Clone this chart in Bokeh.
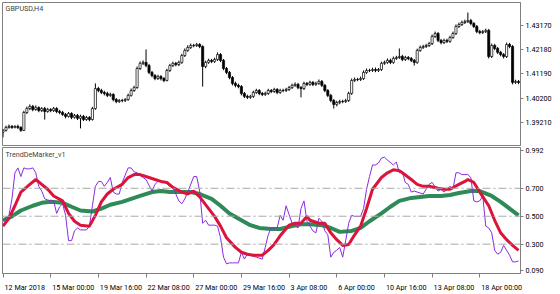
from bokeh.plotting import figure
from bokeh.layouts import column
from bokeh.models import Range1d, FixedTicker, Label, Span, ColumnDataSource
from bokeh.embed import file_html
from bokeh.resources import INLINE

# ---------------- data ----------------
symbol_title = "GBPUSD,H4"
indicator_title = "TrendDeMarker_v1"

first_open = 1.3880
close = [
    1.3888, 1.3900, 1.3904, 1.3900, 1.3904, 1.3900, 1.3888, 1.3961, 1.3977, 1.3986,
    1.3973, 1.3981, 1.3969, 1.3977, 1.3965, 1.3973, 1.3969, 1.3977, 1.3965, 1.3961,
    1.3953, 1.3945, 1.3957, 1.3941, 1.3949, 1.3937, 1.3945, 1.3932, 1.3941, 1.3932,
    1.3977, 1.4059, 1.4051, 1.4043, 1.4039, 1.4031, 1.4035, 1.4014, 1.4006, 1.4010,
    1.4010, 1.4014, 1.4031, 1.4051, 1.4063, 1.4141, 1.4162, 1.4166, 1.4153, 1.4125,
    1.4112, 1.4100, 1.4108, 1.4100, 1.4092, 1.4133, 1.4153, 1.4162, 1.4157, 1.4166,
    1.4194, 1.4215, 1.4227, 1.4235, 1.4235, 1.4239, 1.4231, 1.4149, 1.4166, 1.4174,
    1.4170, 1.4178, 1.4198, 1.4174, 1.4141, 1.4125, 1.4104, 1.4080, 1.4072, 1.4067,
    1.4039, 1.4027, 1.4023, 1.4027, 1.4043, 1.4051, 1.4039, 1.4035, 1.4039, 1.4051,
    1.4047, 1.4055, 1.4043, 1.4051, 1.4051, 1.4055, 1.4063, 1.4072, 1.4076, 1.4063,
    1.4059, 1.4080, 1.4076, 1.4084, 1.4076, 1.4080, 1.4088, 1.4072, 1.4051, 1.4031,
    1.4010, 1.3994, 1.4002, 1.4006, 1.4006, 1.4010, 1.4039, 1.4092, 1.4096, 1.4096,
    1.4100, 1.4125, 1.4133, 1.4133, 1.4137, 1.4133, 1.4137, 1.4162, 1.4166, 1.4174,
    1.4166, 1.4182, 1.4186, 1.4190, 1.4178, 1.4186, 1.4182, 1.4174, 1.4166, 1.4215,
    1.4227, 1.4231, 1.4235, 1.4243, 1.4272, 1.4284, 1.4256, 1.4247, 1.4256, 1.4252,
    1.4268, 1.4284, 1.4313, 1.4321, 1.4329, 1.4333, 1.4337, 1.4325, 1.4313, 1.4292,
    1.4288, 1.4292, 1.4297, 1.4190, 1.4235, 1.4223, 1.4207, 1.4198, 1.4190, 1.4239,
    1.4231, 1.4084, 1.4088, 1.4084,
]
high = [
    1.3894, 1.3907, 1.3912, 1.3910, 1.3909, 1.3911, 1.3905, 1.3968, 1.3985, 1.3994,
    1.3992, 1.3990, 1.3986, 1.3983, 1.3984, 1.3980, 1.3979, 1.3984, 1.3983, 1.3972,
    1.3968, 1.3959, 1.3963, 1.3962, 1.3955, 1.3955, 1.3952, 1.3951, 1.3947, 1.3946,
    1.3984, 1.4080, 1.4066, 1.4058, 1.4050, 1.4046, 1.4042, 1.4040, 1.4020, 1.4016,
    1.4017, 1.4020, 1.4038, 1.4059, 1.4070, 1.4149, 1.4170, 1.4174, 1.4219, 1.4160,
    1.4131, 1.4118, 1.4115, 1.4114, 1.4106, 1.4140, 1.4160, 1.4169, 1.4168, 1.4173,
    1.4201, 1.4223, 1.4236, 1.4243, 1.4242, 1.4246, 1.4245, 1.4236, 1.4173, 1.4181,
    1.4180, 1.4185, 1.4207, 1.4204, 1.4180, 1.4147, 1.4131, 1.4110, 1.4087, 1.4079,
    1.4073, 1.4045, 1.4034, 1.4033, 1.4050, 1.4058, 1.4057, 1.4045, 1.4046, 1.4058,
    1.4057, 1.4062, 1.4061, 1.4058, 1.4058, 1.4062, 1.4070, 1.4079, 1.4084, 1.4082,
    1.4069, 1.4087, 1.4086, 1.4091, 1.4090, 1.4087, 1.4096, 1.4094, 1.4078, 1.4057,
    1.4037, 1.4016, 1.4009, 1.4013, 1.4013, 1.4017, 1.4046, 1.4100, 1.4104, 1.4103,
    1.4108, 1.4133, 1.4141, 1.4140, 1.4144, 1.4145, 1.4143, 1.4169, 1.4173, 1.4182,
    1.4181, 1.4190, 1.4193, 1.4223, 1.4197, 1.4193, 1.4192, 1.4188, 1.4180, 1.4222,
    1.4235, 1.4238, 1.4242, 1.4250, 1.4280, 1.4292, 1.4290, 1.4262, 1.4263, 1.4263,
    1.4275, 1.4292, 1.4321, 1.4329, 1.4337, 1.4341, 1.4370, 1.4344, 1.4331, 1.4319,
    1.4299, 1.4299, 1.4304, 1.4303, 1.4243, 1.4242, 1.4229, 1.4213, 1.4204, 1.4247,
    1.4246, 1.4237, 1.4095, 1.4094,
]
low = [
    1.3859, 1.3883, 1.3895, 1.3894, 1.3896, 1.3893, 1.3882, 1.3885, 1.3955, 1.3971,
    1.3966, 1.3968, 1.3962, 1.3963, 1.3932, 1.3960, 1.3962, 1.3963, 1.3958, 1.3954,
    1.3947, 1.3937, 1.3940, 1.3934, 1.3936, 1.3930, 1.3896, 1.3926, 1.3927, 1.3925,
    1.3928, 1.3972, 1.4044, 1.4036, 1.4031, 1.4024, 1.4025, 1.4007, 1.3999, 1.4000,
    1.4003, 1.4004, 1.4009, 1.4026, 1.4045, 1.4058, 1.4135, 1.4155, 1.4146, 1.4118,
    1.4105, 1.4093, 1.4094, 1.4092, 1.4085, 1.4088, 1.4127, 1.4147, 1.4150, 1.4151,
    1.4160, 1.4188, 1.4209, 1.4221, 1.4228, 1.4229, 1.4224, 1.4067, 1.4142, 1.4160,
    1.4163, 1.4164, 1.4172, 1.4167, 1.4134, 1.4118, 1.4097, 1.4072, 1.4064, 1.4060,
    1.4031, 1.4020, 1.4016, 1.4017, 1.4021, 1.4037, 1.4032, 1.4028, 1.4029, 1.4033,
    1.4040, 1.4041, 1.4036, 1.4037, 1.4044, 1.4045, 1.4049, 1.4057, 1.4066, 1.4056,
    1.4023, 1.4053, 1.4069, 1.4070, 1.4069, 1.4070, 1.4074, 1.4065, 1.4044, 1.4024,
    1.4003, 1.3977, 1.3986, 1.3995, 1.3999, 1.4000, 1.4004, 1.4033, 1.4086, 1.4089,
    1.4090, 1.4094, 1.4119, 1.4126, 1.4127, 1.4126, 1.4127, 1.4131, 1.4156, 1.4160,
    1.4159, 1.4160, 1.4176, 1.4180, 1.4171, 1.4172, 1.4175, 1.4167, 1.4153, 1.4160,
    1.4209, 1.4221, 1.4225, 1.4229, 1.4237, 1.4266, 1.4249, 1.4240, 1.4241, 1.4245,
    1.4246, 1.4262, 1.4278, 1.4307, 1.4315, 1.4323, 1.4327, 1.4318, 1.4306, 1.4285,
    1.4281, 1.4282, 1.4286, 1.4182, 1.4184, 1.4216, 1.4200, 1.4191, 1.4182, 1.4184,
    1.4224, 1.4076, 1.4078, 1.4077,
]

price_ticks = [1.43170, 1.42180, 1.41190, 1.40200, 1.39210]
price_tick_labels = ["1.43170", "1.42180", "1.41190", "1.40200", "1.39210"]

indicator_levels = [0.7, 0.5, 0.3]
indicator_tick_values = [0.992, 0.700, 0.500, 0.300, 0.090]
indicator_tick_labels = ["0.992", "0.700", "0.500", "0.300", "0.090"]

time_tick_bars = [0, 16, 32, 48, 64, 80, 96, 112, 128, 144, 160]
time_tick_labels = ["12 Mar 2018", "15 Mar 00:00", "19 Mar 16:00", "22 Mar 08:00",
                    "27 Mar 00:00", "29 Mar 16:00", "3 Apr 08:00", "6 Apr 00:00",
                    "10 Apr 16:00", "13 Apr 08:00", "18 Apr 00:00"]

# DeMarker (thin violet)
dem_bar = [0, 2, 3, 4, 5, 6, 7, 8, 9, 10, 11, 12, 13, 14, 15, 16, 17, 18, 19, 20,
           21, 22, 23, 24, 25, 26, 27, 28, 29, 30, 31, 32, 33, 34, 35, 36, 37, 38, 39, 40,
           42, 43, 44, 45, 46, 47, 48, 50, 51, 52, 53, 54, 56, 57, 58, 59, 60, 61, 62, 64,
           65, 66, 67, 68, 69, 70, 71, 72, 73, 74, 75, 76, 77, 78, 79, 80, 81, 82, 83, 85,
           87, 88, 89, 90, 91, 92, 93, 94, 95, 97, 99, 100, 101, 102, 104, 105, 106, 107, 108, 109,
           110, 111, 112, 113, 114, 115, 116, 117, 118, 120, 121, 122, 123, 124, 125, 126, 127, 128, 129, 131,
           132, 133, 134, 135, 136, 137, 138, 139, 141, 142, 143, 144, 146, 147, 148, 149, 150, 151, 152, 153,
           154, 156, 157, 158, 159, 160, 161, 162, 163, 164, 165, 166, 167, 168, 170, 171, 172, 173]
dem_val = [0.464, 0.506, 0.624, 0.811, 0.846, 0.784, 0.846, 0.839, 0.839, 0.846, 0.811, 0.714, 0.680, 0.624, 0.617, 0.610, 0.610, 0.520, 0.568, 0.589,
           0.506, 0.325, 0.325, 0.395, 0.416, 0.402, 0.402, 0.402, 0.429, 0.575, 0.714, 0.749, 0.749, 0.714, 0.742, 0.777, 0.673, 0.659, 0.659, 0.742,
           0.846, 0.846, 0.818, 0.811, 0.791, 0.777, 0.763, 0.680, 0.728, 0.749, 0.749, 0.749, 0.714, 0.707, 0.659, 0.610, 0.589, 0.624, 0.673, 0.784,
           0.784, 0.680, 0.450, 0.471, 0.436, 0.436, 0.436, 0.429, 0.346, 0.207, 0.159, 0.166, 0.166, 0.166, 0.166, 0.242, 0.193, 0.228, 0.221, 0.207,
           0.193, 0.277, 0.367, 0.416, 0.416, 0.416, 0.506, 0.471, 0.575, 0.450, 0.416, 0.555, 0.610, 0.464, 0.395, 0.381, 0.485, 0.464, 0.395, 0.367,
           0.207, 0.242, 0.256, 0.277, 0.207, 0.325, 0.450, 0.506, 0.499, 0.499, 0.555, 0.693, 0.784, 0.867, 0.867, 0.881, 0.916, 0.923, 0.902, 0.867,
           0.888, 0.811, 0.818, 0.742, 0.728, 0.673, 0.680, 0.673, 0.659, 0.693, 0.728, 0.742, 0.680, 0.693, 0.673, 0.693, 0.714, 0.693, 0.811, 0.811,
           0.798, 0.798, 0.777, 0.610, 0.603, 0.610, 0.645, 0.429, 0.416, 0.381, 0.256, 0.228, 0.242, 0.291, 0.221, 0.173, 0.173, 0.180]

# fast smoothing (thick red)
fast_bar = [0, 2, 4, 6, 9, 11, 13, 15, 17, 20, 22, 24, 26, 29, 31, 33, 35, 37, 40, 42,
            44, 46, 49, 51, 53, 55, 57, 60, 62, 64, 66, 69, 71, 73, 75, 78, 80, 82, 84, 87,
            89, 91, 93, 96, 98, 100, 102, 103, 106, 108, 110, 112, 114, 116, 118, 120, 122, 124, 127, 129,
            131, 133, 134, 137, 139, 141, 143, 146, 148, 150, 153, 155, 156, 158, 160, 163, 165, 167, 169, 171, 173]
fast_val = [0.429, 0.485, 0.575, 0.673, 0.728, 0.763, 0.728, 0.693, 0.645, 0.610, 0.520, 0.464, 0.436, 0.429, 0.506, 0.603, 0.659, 0.693, 0.728, 0.777,
            0.798, 0.798, 0.777, 0.763, 0.749, 0.742, 0.707, 0.673, 0.659, 0.680, 0.638, 0.555, 0.499, 0.429, 0.346, 0.277, 0.242, 0.228, 0.221, 0.221,
            0.256, 0.298, 0.360, 0.436, 0.450, 0.450, 0.499, 0.471, 0.450, 0.450, 0.381, 0.332, 0.291, 0.298, 0.367, 0.429, 0.555, 0.693, 0.777, 0.811,
            0.832, 0.825, 0.811, 0.763, 0.728, 0.714, 0.714, 0.700, 0.693, 0.693, 0.728, 0.749, 0.763, 0.742, 0.673, 0.575, 0.471, 0.381, 0.332, 0.291, 0.256]

# slow smoothing (thick green)
slow_bar = [0, 3, 6, 10, 13, 16, 20, 23, 26, 30, 33, 36, 40, 43, 46, 50, 53, 56, 60, 63,
            66, 70, 73, 76, 80, 83, 86, 90, 93, 97, 100, 103, 107, 110, 113, 117, 120, 123, 127, 130,
            133, 137, 140, 143, 147, 150, 153, 157, 160, 164, 167, 170, 173]
slow_val = [0.471, 0.499, 0.541, 0.575, 0.596, 0.603, 0.596, 0.568, 0.541, 0.534, 0.555, 0.582, 0.603, 0.624, 0.645, 0.673, 0.680, 0.673, 0.673, 0.673,
            0.659, 0.624, 0.575, 0.520, 0.471, 0.436, 0.416, 0.409, 0.409, 0.429, 0.443, 0.443, 0.436, 0.416, 0.388, 0.395, 0.416, 0.464, 0.520, 0.568,
            0.610, 0.631, 0.638, 0.645, 0.645, 0.652, 0.666, 0.680, 0.680, 0.645, 0.603, 0.555, 0.506]

# ---------------- build ----------------
FONT = "Roboto"
FS_PX = 7.2
FS = f"{FS_PX}px"
GRAY = "#808080"

X0, X1 = -0.17, 173.66
FRAME_W = 518
PX_PER_BAR = FRAME_W / (X1 - X0)

# approximate Roboto advance widths (em) for centring left-aligned date labels
ROBOTO_W = {d: 0.5615 for d in "0123456789"}
ROBOTO_W.update({" ": 0.2476, ":": 0.2363, "M": 0.873, "a": 0.544, "r": 0.338,
                 "A": 0.652, "p": 0.561})


def text_px(s):
    return sum(ROBOTO_W.get(ch, 0.56) for ch in s) * FS_PX


n = len(close)
bars = list(range(n))
opens = [first_open] + close[:-1]
tops = [max(o, c) for o, c in zip(opens, close)]
bots = [min(o, c) for o, c in zip(opens, close)]
fills = ["white" if c >= o else "black" for o, c in zip(opens, close)]
candles = ColumnDataSource(dict(x=bars, high=high, low=low, top=tops, bottom=bots, fill=fills))

xr = Range1d(X0, X1)


def style_right_axis(ax, ticks, labels):
    ax.ticker = FixedTicker(ticks=ticks)
    ax.major_label_overrides = {t: s for t, s in zip(ticks, labels)}
    ax.major_tick_out = 3
    ax.major_tick_in = 0
    ax.minor_tick_out = 0
    ax.minor_tick_in = 0
    ax.axis_line_color = GRAY
    ax.major_tick_line_color = GRAY
    ax.major_label_standoff = 2
    ax.major_label_text_font = FONT
    ax.major_label_text_font_size = FS
    ax.major_label_text_color = "black"


p1 = figure(width=560, height=146, x_range=xr, y_range=Range1d(1.3826, 1.4411),
            output_backend="svg", toolbar_location=None, x_axis_location=None,
            y_axis_location="right", min_border_left=2, min_border_right=40,
            min_border_top=2, min_border_bottom=1)
p1.grid.visible = False
p1.outline_line_color = GRAY
style_right_axis(p1.yaxis[0], price_ticks, price_tick_labels)

p1.segment(x0="x", y0="low", x1="x", y1="high", source=candles, line_color="black", line_width=1)
p1.vbar(x="x", top="top", bottom="bottom", width=0.72, source=candles,
        fill_color="fill", line_color="black", line_width=0.7)
p1.add_layout(Label(x=X0, y=1.4411, x_offset=3, y_offset=-1, text=symbol_title,
                    text_font=FONT, text_font_size=FS, text_baseline="top", text_align="left"))

p2 = figure(width=560, height=148, x_range=xr, y_range=Range1d(0.09, 0.992),
            output_backend="svg", toolbar_location=None,
            y_axis_location="right", min_border_left=2, min_border_right=40,
            min_border_top=1, min_border_bottom=17)
p2.grid.visible = False
p2.outline_line_color = GRAY
# max/min labels sit just inside the window, as in the terminal
shown = [0.972, 0.700, 0.500, 0.300, 0.110]
style_right_axis(p2.yaxis[0], shown, indicator_tick_labels)

# time axis: marks at the bars (minor ticks), texts left-aligned next to each mark
label_centres = [b + (1.5 + text_px(s) / 2) / PX_PER_BAR for b, s in zip(time_tick_bars, time_tick_labels)]
axx = p2.xaxis[0]
axx.ticker = FixedTicker(ticks=label_centres, minor_ticks=time_tick_bars)
axx.major_label_overrides = {c: s for c, s in zip(label_centres, time_tick_labels)}
axx.major_tick_out = 0
axx.major_tick_in = 0
axx.minor_tick_out = 4
axx.minor_tick_in = 0
axx.minor_tick_line_color = GRAY
axx.axis_line_color = GRAY
axx.major_label_standoff = 5
axx.major_label_text_font = FONT
axx.major_label_text_font_size = FS
axx.major_label_text_color = "black"

for lv in indicator_levels:
    p2.add_layout(Span(location=lv, dimension="width", line_color="#a8a8a8",
                       line_width=1, line_dash="8 3 2 3"))

p2.line(slow_bar, slow_val, line_color="#2E8B57", line_width=4)
p2.line(dem_bar, dem_val, line_color="#8A2BE2", line_width=1)
p2.line(fast_bar, fast_val, line_color="#DC143C", line_width=3)

p2.add_layout(Label(x=X0, y=0.992, x_offset=3, y_offset=-2, text=indicator_title,
                    text_font=FONT, text_font_size=FS, text_baseline="top", text_align="left"))

layout = column(p1, p2, spacing=0)
open("out.html", "w").write(file_html(layout, INLINE))
